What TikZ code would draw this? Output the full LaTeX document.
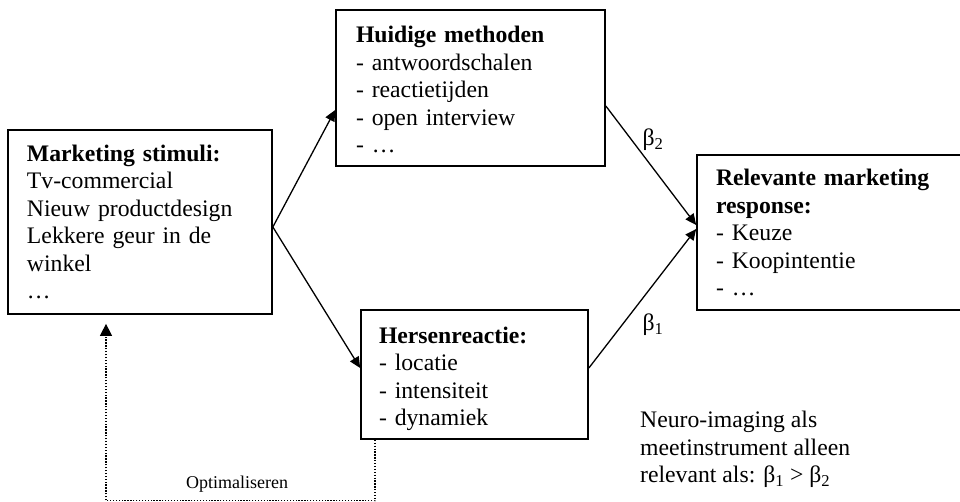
\documentclass[tikz,border=0pt]{standalone}
\usepackage{fontspec}
\setmainfont{Liberation Serif}
\usetikzlibrary{arrows.meta}
\begin{document}
\begin{tikzpicture}[x=1pt,y=-1pt,
  box/.style={draw,line width=1.7pt,align=left,inner ysep=0pt,font=\fontsize{23.7}{27.5}\selectfont},
  conn/.style={line width=1.3pt,-{Triangle[length=11pt,width=10pt]}},
  fb/.style={line width=1.2pt,dash pattern=on 1.3pt off 1.6pt,-{Triangle[length=12pt,width=12pt]}},
  lbl/.style={font=\fontsize{23.7}{27.5}\selectfont,inner sep=0pt,align=left}]
\useasboundingbox (0,0) rectangle (960,501);
\clip (0,0) rectangle (960,501);
\fill[white] (0,0) rectangle (960,501);

\node[box,text width=226pt,inner xsep=19pt,minimum height=184pt] (ms) at (140,222)
  {\textbf{Marketing stimuli:}\\Tv-commercial\\Nieuw productdesign\\Lekkere geur in de\\winkel\\…};
\node[box,text width=229pt,inner xsep=20pt,minimum height=156pt] (hm) at (470.5,88)
  {\rule{0pt}{20pt}\textbf{Huidige methoden}\\- antwoordschalen\\- reactietijden\\- open interview\\- …};
\node[box,text width=227pt,inner xsep=19pt,minimum height=155pt] (rm) at (829.5,232.5)
  {\textbf{Relevante marketing}\\\textbf{response:}\\- Keuze\\- Koopintentie\\- …};
\node[box,text width=191pt,inner xsep=18pt,minimum height=129pt] (hr) at (474.5,374.5)
  {\rule{0pt}{25pt}\textbf{Hersenreactie:}\\- locatie\\- intensiteit\\- dynamiek};

\draw[conn] ([yshift=-5pt]ms.east) -- ([yshift=-22pt]hm.west);
\draw[conn] ([yshift=-5pt]ms.east) -- ([yshift=6.5pt]hr.west);
\draw[conn] ([yshift=-18pt]hm.east) -- ([yshift=7.5pt]rm.west);
\draw[conn] ([yshift=6.5pt]hr.east) -- ([yshift=3.5pt]rm.west);

\draw[fb] ([xshift=-99.5pt]hr.south) -- ++(0,61) -| ([xshift=-34pt,yshift=-9pt]ms.south);
\node[font=\fontsize{18}{21}\selectfont,inner sep=0pt] (opt) at (237,484) {Optimaliseren};

\node[lbl] (b2) at (653,140) {β\textsubscript{2}};
\node[lbl] (b1) at (653,325) {β\textsubscript{1}};
\node[lbl,anchor=north west] (neuro) at (640,411)
  {Neuro-imaging als\\meetinstrument alleen\\relevant als: β\textsubscript{1} > β\textsubscript{2}};
\end{tikzpicture}
\end{document}
